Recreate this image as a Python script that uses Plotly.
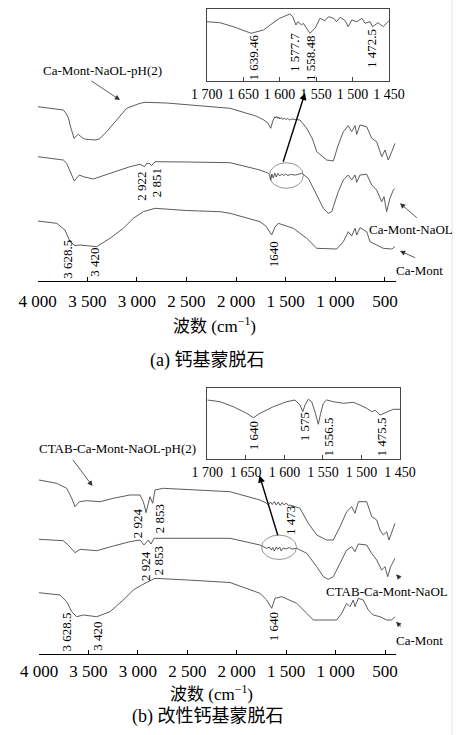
import plotly.graph_objects as go

W, H = 461, 735
SERIF = '"Liberation Serif", "Times New Roman", Times, "Noto Sans CJK SC", serif'
LINE_C = "#4a4a4a"

# ---------------- data: main tick labels ----------------
main_ticks = [4000, 3500, 3000, 2500, 2000, 1500, 1000, 500]
main_ticktext = ["4 000", "3 500", "3 000", "2 500", "2 000", "1 500", "1 000", "500"]
inset_ticks = [1700, 1650, 1600, 1550, 1500, 1450]
inset_ticktext = ["1 700", "1 650", "1 600", "1 550", "1 500", "1 450"]

# ---------------- panel (a) spectra (wavenumber, arbitrary transmittance) ----------------
a_top_wn = [4000, 3900, 3808, 3742, 3715, 3690, 3674, 3650, 3634, 3610, 3591, 3560, 3530, 3480, 3422, 3380,
            3304, 3204, 3103, 2969, 2918, 2700, 2364, 2061, 1800, 1720, 1680, 1651, 1630, 1608, 1600, 1590,
            1580, 1570, 1560, 1545, 1530, 1515, 1500, 1480, 1460, 1440, 1400, 1356, 1288, 1230, 1187, 1120,
            1087, 1020, 970, 919, 869, 835, 801, 784, 751, 683, 633, 583, 532, 499, 466, 431, 398]
a_top = [174.3, 173.0, 172.0, 171.0, 167.7, 163.0, 156.0, 148.0, 142.7, 145.0, 146.7, 144.0, 142.0, 141.5, 141.0, 142.0,
         149.3, 161.0, 172.7, 177.7, 178.7, 178.0, 175.0, 172.7, 165.0, 161.0, 158.0, 152.7, 160.0, 164.3, 163.0, 164.5,
         162.5, 164.0, 162.0, 163.5, 161.5, 163.0, 161.5, 162.5, 161.0, 162.0, 161.5, 161.0, 152.7, 142.0, 129.3, 124.0,
         121.0, 120.0, 136.0, 149.3, 155.3, 149.3, 155.3, 146.7, 156.0, 154.3, 142.7, 139.3, 124.3, 131.0, 121.0, 129.3, 137.7]

a_mid_wn = [4000, 3742, 3708, 3657, 3631, 3581, 3540, 3440, 3238, 3070, 2969, 2922, 2901, 2875, 2851, 2817,
            2500, 2061, 1759, 1680, 1658, 1650, 1640, 1625, 1610, 1595, 1580, 1560, 1540, 1520, 1500, 1480,
            1450, 1400, 1339, 1272, 1187, 1121, 1071, 1036, 970, 919, 869, 835, 801, 784, 751, 683, 633, 583,
            532, 509, 482, 449, 415, 398]
a_mid = [124.3, 121.0, 117.7, 106.0, 100.0, 106.0, 104.3, 102.0, 108.7, 114.3, 116.7, 114.3, 117.7, 117.5, 115.5, 119.3,
         119.0, 118.3, 111.0, 108.0, 106.0, 100.5, 107.0, 103.0, 108.0, 104.0, 107.5, 105.0, 107.0, 105.5, 107.0, 105.5,
         106.5, 106.0, 107.7, 102.7, 86.0, 72.7, 67.7, 69.3, 89.3, 101.0, 106.0, 101.0, 106.0, 98.7, 106.0, 106.7, 96.0, 91.0,
         79.3, 84.3, 69.3, 82.7, 91.0, 92.7]

a_bot_wn = [4000, 3808, 3725, 3674, 3624, 3574, 3405, 3271, 3137, 3036, 2935, 2817, 2500, 2162, 2061, 1759,
            1700, 1641, 1608, 1575, 1423, 1288, 1187, 986, 919, 869, 835, 801, 784, 751, 683, 650, 583, 516, 431, 398]
a_bot = [60.0, 57.7, 51.0, 39.3, 35.3, 36.0, 34.3, 42.7, 52.7, 62.7, 69.3, 72.7, 70.5, 69.3, 67.7, 59.3,
         55.0, 46.0, 54.0, 57.7, 52.7, 42.7, 32.7, 32.0, 39.3, 49.3, 45.0, 52.7, 46.0, 53.3, 49.3, 39.3, 36.0, 32.7, 32.0, 34.3]

ins_a_wn = [1700, 1682, 1663.5, 1645, 1639, 1631, 1622, 1613, 1600, 1586, 1582, 1577.7, 1575, 1570, 1567.5,
            1558.5, 1551.5, 1544.6, 1537.8, 1533, 1526, 1522, 1517, 1510, 1506, 1501, 1494, 1487, 1483, 1476,
            1472.5, 1465, 1458, 1450]
ins_a = [59.3, 58.3, 54.3, 49.3, 47.7, 49.3, 51.0, 56.0, 62.7, 67.0, 64.3, 56.0, 59.3, 56.0, 57.7,
         47.7, 52.7, 62.7, 60.3, 64.3, 62.7, 59.3, 63.7, 60.3, 54.3, 61.0, 59.3, 62.7, 57.7, 59.3,
         54.3, 58.3, 54.3, 60.3]

# ---------------- panel (b) spectra ----------------
b_top_wn = [4000, 3821, 3720, 3669, 3636, 3592, 3518, 3383, 3248, 3080, 2978, 2945, 2930, 2918, 2894, 2877,
            2850, 2827, 2743, 2068, 1765, 1697, 1680, 1660, 1640, 1620, 1600, 1580, 1560, 1540, 1520, 1500,
            1480, 1461, 1360, 1276, 1191, 1090, 1023, 955, 888, 837, 804, 770, 685, 635, 584, 551, 517, 483,
            460, 432, 399]
b_top = [174.0, 170.7, 165.7, 155.7, 147.3, 152.3, 153.3, 152.3, 155.7, 159.0, 159.0, 152.3, 147.0, 141.3, 150.7, 157.3,
         150.7, 164.0, 165.7, 162.3, 154.0, 150.7, 149.0, 152.0, 149.5, 152.5, 149.0, 152.0, 148.5, 151.5, 149.0, 151.0,
         148.5, 149.0, 145.7, 130.7, 119.0, 114.0, 114.0, 127.3, 142.3, 147.3, 140.7, 152.3, 152.3, 137.3, 134.0, 124.0,
         119.0, 122.3, 114.0, 122.3, 130.7]

b_mid_wn = [4000, 3754, 3704, 3636, 3585, 3416, 3248, 3080, 2978, 2938, 2894, 2867, 2837, 2169, 2068, 1765,
            1697, 1670, 1650, 1635, 1620, 1600, 1585, 1565, 1550, 1530, 1500, 1470, 1440, 1393, 1292, 1191,
            1124, 1074, 1023, 955, 888, 837, 804, 770, 685, 635, 584, 534, 500, 473, 443, 399]
b_mid = [114.7, 113.3, 109.0, 101.3, 104.7, 103.3, 108.0, 112.3, 114.0, 109.0, 114.0, 110.0, 115.7, 116.0, 115.7, 109.0,
         105.7, 107.0, 104.0, 106.5, 103.0, 107.0, 104.5, 107.0, 103.0, 106.0, 105.0, 106.5, 105.0, 105.7, 100.7, 87.3,
         77.3, 74.7, 77.3, 90.7, 104.0, 107.3, 102.3, 110.0, 109.0, 100.7, 94.0, 84.0, 87.3, 77.3, 87.3, 95.7]

b_bot_wn = [4000, 3788, 3720, 3669, 3619, 3552, 3416, 3282, 3147, 3046, 2961, 2894, 2827, 2500, 2169, 2068,
            1765, 1697, 1646, 1613, 1545, 1393, 1292, 1225, 989, 938, 888, 854, 821, 804, 770, 720, 669, 619,
            551, 483, 432, 399]
b_bot = [61.3, 59.0, 52.3, 42.3, 37.3, 39.0, 37.3, 42.3, 54.0, 64.0, 69.0, 72.3, 75.7, 74.0, 72.5, 71.5,
         60.7, 54.0, 45.7, 55.7, 57.3, 50.7, 40.7, 34.0, 34.0, 40.7, 50.7, 47.3, 54.0, 47.3, 55.7, 54.0, 44.0, 39.0,
         37.3, 34.0, 34.0, 37.3]

ins_b_wn = [1700, 1683.5, 1666.3, 1648.9, 1640.3, 1631.6, 1614.4, 1597, 1586.2, 1579.7, 1576.2, 1573.2, 1569,
            1564.6, 1560.3, 1556, 1552.9, 1549.5, 1545.1, 1536.5, 1523.5, 1510.6, 1501.9, 1493.2, 1486.7, 1482,
            1475.9, 1467.2, 1458.7, 1450]
ins_b = [59.3, 57.6, 52.6, 46.0, 41.6, 46.0, 52.6, 57.6, 59.3, 54.3, 47.6, 54.3, 60.0,
         57.6, 47.6, 35.0, 46.0, 56.0, 59.3, 57.6, 56.0, 57.0, 54.3, 51.0, 47.6, 49.0,
         44.3, 47.6, 50.0, 50.0]

# ---------------- peak labels: (text, wavenumber, level) ----------------
a_peaks = [("2 922", 2962, 95), ("2 851", 2800, 98.5), ("3 628.5", 3708, 22), ("3 420", 3429, 18.5), ("1640", 1625, 27)]
a_inset_peaks = [("1 639.46", 1636.5, 23.5), ("1 577.7", 1579.9, 29.3), ("1 558.48", 1558.3, 23), ("1 472.5", 1474.7, 33)]
b_peaks = [("2 924", 3006, 131), ("2 853", 2783, 135), ("2 924", 2928, 88), ("2 853", 2793, 93),
           ("1 473", 1461, 133), ("3 628.5", 3720, 22.3), ("3 420", 3416, 18), ("1 640", 1630, 27)]
b_inset_peaks = [("1 640", 1640.3, 23.3), ("1 575", 1574.2, 32.3), ("1 556.5", 1544, 22.3), ("1 475.5", 1474.6, 21.8)]

fig = go.Figure()

def add_line(x, y, xa, ya):
    fig.add_trace(go.Scatter(x=x, y=y, mode="lines", xaxis=xa, yaxis=ya,
                             line=dict(color=LINE_C, width=0.9), showlegend=False, hoverinfo="skip"))

for xs, ys in [(a_top_wn, a_top), (a_mid_wn, a_mid), (a_bot_wn, a_bot)]:
    add_line(xs, ys, "x", "y")
add_line(ins_a_wn, ins_a, "x2", "y2")
for xs, ys in [(b_top_wn, b_top), (b_mid_wn, b_mid), (b_bot_wn, b_bot)]:
    add_line(xs, ys, "x3", "y3")
add_line(ins_b_wn, ins_b, "x4", "y4")

def px(v):
    return v / W

def py(v):
    return 1 - v / H

main_x = dict(range=[4000, 392], showline=True, linecolor="black", linewidth=1.2, ticks="inside",
              ticklen=4, tickwidth=1.2, tickcolor="black", tickvals=main_ticks, ticktext=main_ticktext,
              tickfont=dict(family=SERIF, size=17, color="black"), showgrid=False, zeroline=False,
              fixedrange=True, automargin=False)
inset_x = dict(range=[1700, 1450], showline=True, mirror=True, linecolor="#444", linewidth=1, ticks="inside",
               ticklen=4, tickcolor="#444", tickvals=inset_ticks, ticktext=inset_ticktext,
               tickfont=dict(family=SERIF, size=14, color="black"), showgrid=False, zeroline=False,
               automargin=False)
hidden_y = dict(visible=False, showgrid=False, zeroline=False, automargin=False)
inset_y = dict(showline=True, mirror=True, linecolor="#444", linewidth=1, ticks="", showticklabels=False,
               showgrid=False, zeroline=False, automargin=False)

fig.update_layout(
    width=W, height=H, margin=dict(l=0, r=0, t=0, b=0, autoexpand=False),
    paper_bgcolor="white", plot_bgcolor="rgba(0,0,0,0)",
    font=dict(family=SERIF),
    xaxis=dict(main_x, domain=[px(37.7), px(395.6)], anchor="y", ticklabelstandoff=4),
    yaxis=dict(hidden_y, domain=[py(281), 1], range=[0, 281], anchor="x"),
    xaxis2=dict(inset_x, domain=[px(206.7), px(389)], anchor="y2", ticklabelstandoff=0),
    yaxis2=dict(inset_y, domain=[py(81), py(9)], range=[0, 72], anchor="x2"),
    xaxis3=dict(main_x, domain=[px(39), px(395.7)], anchor="y3", ticklabelstandoff=1),
    yaxis3=dict(hidden_y, domain=[py(654), py(372)], range=[0, 282], anchor="x3"),
    xaxis4=dict(inset_x, domain=[px(207.3), px(400)], anchor="y4", ticklabelstandoff=0),
    yaxis4=dict(inset_y, domain=[py(459.3), py(387.5)], range=[0, 71.8], anchor="x4"),
)

ann = []
LBL = dict(family=SERIF, size=13, color="black")

def text_ann(t, x, y, xr, yr, font, xanchor="center", angle=0):
    ann.append(dict(text=t, x=x, y=y, xref=xr, yref=yr, xanchor=xanchor, yanchor="middle",
                    textangle=angle, showarrow=False, font=font))

for t, x, y in a_peaks:
    text_ann(t, x, y, "x", "y", LBL, angle=-90)
for t, x, y in a_inset_peaks:
    text_ann(t, x, y, "x2", "y2", LBL, angle=-90)
for t, x, y in b_peaks:
    text_ann(t, x, y, "x3", "y3", LBL, angle=-90)
for t, x, y in b_inset_peaks:
    text_ann(t, x, y, "x4", "y4", LBL, angle=-90)

# series names
text_ann("Ca-Mont-NaOL-pH(2)", 3347, 211, "x", "y", LBL)
text_ann("Ca-Mont-NaOL", px(366.7), 51.7, "paper", "y", LBL, xanchor="left")
text_ann("Ca-Mont", px(394), 10.3, "paper", "y", LBL, xanchor="left")
text_ann("CTAB-Ca-Mont-NaOL-pH(2)", 3206, 205.7, "x3", "y3", LBL)
text_ann("CTAB-Ca-Mont-NaOL", px(324), 62.3, "paper", "y3", LBL, xanchor="left")
text_ann("Ca-Mont", px(394), 14, "paper", "y3", LBL, xanchor="left")

# arrows
def arrow_data(hx, hy, tx, ty, xr, yr, w=0.8, c="#333", size=1.3):
    ann.append(dict(text="", x=hx, y=hy, ax=tx, ay=ty, xref=xr, yref=yr, axref=xr, ayref=yr,
                    showarrow=True, arrowhead=2, arrowsize=size, arrowwidth=w, arrowcolor=c, standoff=0))

def arrow_px(hx, hy, dx, dy, yr, w=0.8, c="#333", size=1.3):
    ann.append(dict(text="", x=hx, y=hy, ax=dx, ay=dy, xref="paper", yref=yr,
                    showarrow=True, arrowhead=2, arrowsize=size, arrowwidth=w, arrowcolor=c, standoff=0))

arrow_data(3170, 181, 3473, 201, "x", "y")
arrow_data(1305, 188, 1530, 117.7, "x", "y", w=1.4, c="black", size=1.0)
arrow_px(px(400), 77.7, 18.3, 15.7, "y")
arrow_px(px(400), 30, 16.7, 7.3, "y")
arrow_data(3459, 168, 3669, 195.7, "x3", "y3")
arrow_data(1770, 178.5, 1580, 117.3, "x3", "y3", w=1.4, c="black", size=1.0)
arrow_px(px(396), 79.7, 5.7, 5.7, "y3")
arrow_px(px(396), 32.3, 6.7, 6.6, "y3")

# axis titles and captions
TT = dict(family=SERIF, size=17, color="black")
CAP = dict(family=SERIF, size=18, color="black")
text_ann("波数 (cm<sup>−1</sup>)", px(214), py(325), "paper", "paper", TT)
text_ann("(a) 钙基蒙脱石", px(207), py(360), "paper", "paper", CAP)
text_ann("波数 (cm<sup>−1</sup>)", px(211), py(693.3), "paper", "paper", TT)
text_ann("(b) 改性钙基蒙脱石", px(207.7), py(716.7), "paper", "paper", CAP)
fig.update_layout(annotations=ann)

# highlighted regions (ellipses)
fig.add_shape(type="circle", xref="x", yref="y", x0=1665, x1=1322, y0=92.7, y1=118.3,
              line=dict(color="#777", width=0.8))
fig.add_shape(type="circle", xref="x3", yref="y3", x0=1749, x1=1395, y0=94.5, y1=118.9,
              line=dict(color="#777", width=0.8))
# faint right-hand page edge seen in the scan
fig.add_shape(type="line", xref="paper", yref="paper", x0=px(452), x1=px(452), y0=0, y1=1,
              line=dict(color="#e4e4e4", width=1))

fig.write_html("out.html")
